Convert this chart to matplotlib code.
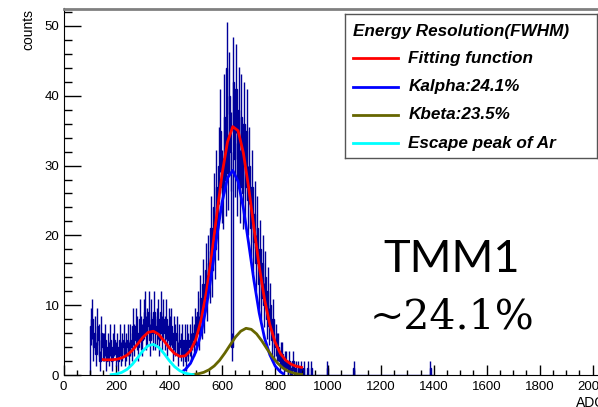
import numpy as np
import matplotlib.pyplot as plt
from matplotlib.ticker import MultipleLocator

# ---- data ----

# histogram counts, 5 ADC wide bins starting at ADC 100
bin_width = 5
hist_start = 100
counts = [
    7, 8, 4, 6, 3, 7, 5, 2, 6, 4,            # 100-150
    4, 5, 2, 4, 3, 5, 2, 4, 5, 3,            # 150-200
    4, 2, 5, 3, 4, 5, 3, 4, 5, 3,            # 200-250
    5, 4, 7, 5, 7, 6, 4, 8, 6, 5,            # 250-300
    8, 9, 6, 7, 9, 5, 8, 6, 9, 6,            # 300-350
    7, 8, 5, 9, 6, 8, 6, 8, 5, 7,            # 350-400
    6, 7, 4, 6, 5, 6, 3, 5, 4, 5,            # 400-450
    3, 5, 2, 5, 4, 5, 4, 6, 5, 7,            # 450-500
    6, 9, 6, 11, 8, 13, 9, 15, 11, 16,       # 500-550
    14, 21, 15, 24, 18, 27, 21, 30, 35, 27,  # 550-600
    26, 37, 28, 44, 29, 40, 32, 4, 42, 31,   # 600-650
    41, 28, 38, 27, 37, 26, 36, 27, 35, 25,  # 650-700
    30, 21, 27, 19, 23, 16, 21, 13, 18, 11,  # 700-750
    16, 10, 14, 8, 12, 7, 10, 5, 8, 4,       # 750-800
    5, 4, 4, 2, 3, 3, 1, 2, 2, 1,            # 800-850
    2, 0, 1, 2, 0, 1, 0, 1, 0, 1,            # 850-900
    0, 1, 0, 0, 1, 0, 0, 1, 0, 0,            # 900-950
]
# a few lonely entries far to the right
sparse_adc = [995, 1095, 1385]
sparse_counts = [1, 1, 1]

# fitting function (sum)
fit_adc = [150, 160, 180, 200, 220, 240, 260, 280, 300, 320, 340, 360, 380,
           400, 420, 440, 460, 480, 500, 520, 540, 560, 580, 600, 620, 640,
           660, 680, 700, 720, 740, 760, 780, 800, 820, 840, 860, 880, 900]
fit_val = [2.2, 2.17, 2.18, 2.24, 2.44, 2.84, 3.52, 4.43, 5.40, 6.11, 6.27,
           5.81, 4.90, 3.89, 3.08, 2.66, 2.74, 3.48, 5.08, 7.81, 11.84, 17.11,
           23.10, 28.90, 33.38, 35.58, 34.99, 31.82, 26.86, 21.10, 15.56,
           10.84, 7.23, 4.70, 3.08, 2.11, 1.55, 1.25, 1.09]

# Kalpha component
ka_adc = [450, 460, 480, 500, 520, 540, 560, 580, 600, 620, 640, 660, 680,
          700, 720, 740, 760, 780, 800, 820, 830]
ka_val = [0.51, 0.77, 1.67, 3.29, 5.93, 9.73, 14.58, 19.92, 24.82, 28.23,
          29.3, 27.72, 23.93, 18.85, 13.54, 8.88, 5.31, 2.90, 1.30, 0.45, 0.2]

# Kbeta component
kb_adc = [490, 510, 530, 550, 570, 590, 610, 630, 650, 670, 690, 710, 730,
          750, 770, 790, 810, 830, 850, 870, 890, 900]
kb_val = [0.08, 0.18, 0.38, 0.74, 1.30, 2.10, 3.14, 4.30, 5.42, 6.27, 6.69,
          6.54, 5.89, 4.88, 3.71, 2.60, 1.67, 0.99, 0.54, 0.27, 0.12, 0.08]

# Ar escape peak
esc_adc = [180, 200, 220, 240, 260, 280, 300, 320, 340, 360, 380, 400, 420,
           440, 460, 480, 490]
esc_val = [0.05, 0.14, 0.37, 0.80, 1.51, 2.46, 3.46, 4.20, 4.39, 3.96, 3.08,
           2.06, 1.19, 0.60, 0.26, 0.10, 0.05]

legend_title = "Energy Resolution(FWHM)"
legend_labels = ["Fitting function", "Kalpha:24.1%", "Kbeta:23.5%", "Escape peak of Ar"]
legend_colors = ["#ff0000", "#0000ff", "#666600", "#00ffff"]

# ---- build the full histogram ----
n_bins = (1400 - hist_start) // bin_width
full = np.zeros(n_bins)
full[:len(counts)] = counts
for a, c in zip(sparse_adc, sparse_counts):
    full[(a - hist_start) // bin_width] = c
edges = hist_start + bin_width * np.arange(n_bins + 1)
centers = edges[:-1] + bin_width / 2
nz = full > 0
err = np.sqrt(full)

# ---- figure ----
plt.rcParams['font.family'] = 'Liberation Sans'
W, H = 598, 407
fig = plt.figure(figsize=(W / 100, H / 100), dpi=100)

x0, y0 = 63.5, 375          # pixel of the origin
adc_px = 0.2645
x_max, y_max = 2048, 52.5
ax = fig.add_axes([x0 / W, 1 - y0 / H, x_max * adc_px / W, (y0 - 8.5) / H])

navy = '#000099'
ax.stairs(full, edges, color=navy, lw=1)
ax.vlines(centers[nz], (full - err)[nz], (full + err)[nz], color=navy, lw=1)
ax.plot(fit_adc, fit_val, color=legend_colors[0], lw=2)
ax.plot(ka_adc, ka_val, color=legend_colors[1], lw=2)
ax.plot(kb_adc, kb_val, color=legend_colors[2], lw=2)
ax.plot(esc_adc, esc_val, color=legend_colors[3], lw=2)

ax.set_xlim(0, x_max)
ax.set_ylim(0, y_max)
ax.set_xticks(np.arange(0, 2001, 200))
ax.set_yticks(np.arange(0, 51, 10))
ax.xaxis.set_minor_locator(MultipleLocator(50))
ax.yaxis.set_minor_locator(MultipleLocator(2))
ax.tick_params(which='both', direction='in', top=False, right=False,
               labelsize=9.5, width=1)
ax.tick_params(axis='y', which='major', length=12, pad=3)
ax.tick_params(axis='y', which='minor', length=6)
ax.tick_params(axis='x', which='major', length=7.5, pad=4)
ax.tick_params(axis='x', which='minor', length=3.8)
ax.spines['right'].set_visible(False)
ax.spines['top'].set_color('#808080')
ax.spines['top'].set_linewidth(2)

fig.text(28 / W, 1 - 8.5 / H, "counts", rotation=90, ha='center', va='top', fontsize=10)
fig.text(605 / W, 1 - 396 / H, "ADC", ha='right', va='top', fontsize=10)

fig.text(451.7 / W, 1 - 271.7 / H, "TMM1", fontsize=32.5, family='Lato',
         ha='center', va='baseline')
fig.text(452.5 / W, 1 - 328.3 / H, "~24.1%", fontsize=29.5, family='DejaVu Serif',
         ha='center', va='baseline')

# legend box
lx0, ly0, lx1, ly1 = 345, 14, 596.7, 157.7
lax = fig.add_axes([lx0 / W, 1 - ly1 / H, (lx1 - lx0) / W, (ly1 - ly0) / H])
lax.set_xlim(0, lx1 - lx0)
lax.set_ylim(ly1 - ly0, 0)
lax.set_xticks([])
lax.set_yticks([])
for s in lax.spines.values():
    s.set_color('#555555')
    s.set_linewidth(1)
lax.text(7.7, 17.7, legend_title, fontsize=12.3, fontweight='bold', style='italic', va='center')
for i, (lab, col) in enumerate(zip(legend_labels, legend_colors)):
    yy = 44.3 + i * 28.3
    lax.plot([8.3, 53.3], [yy, yy], color=col, lw=2)
    lax.text(63.3, yy, lab, fontsize=12.3, fontweight='bold', style='italic', va='center')

fig.savefig("out.png", dpi=100)
